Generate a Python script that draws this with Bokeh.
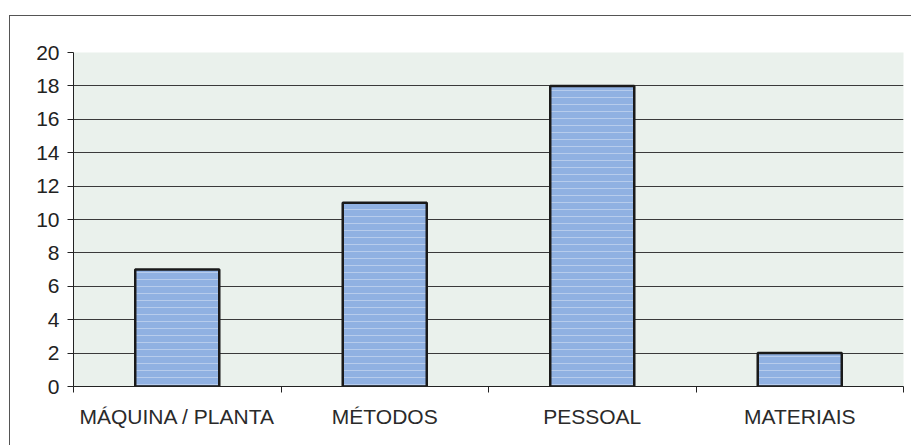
from bokeh.plotting import figure
from bokeh.models import FixedTicker, Range1d, ColumnDataSource
from bokeh.embed import file_html
from bokeh.resources import INLINE

categories = ["MÁQUINA / PLANTA", "MÉTODOS", "PESSOAL", "MATERIAIS"]
values = [7, 11, 18, 2]
y_ticks = [0, 2, 4, 6, 8, 10, 12, 14, 16, 18, 20]

xpos = [i + 0.5 for i in range(len(categories))]
src = ColumnDataSource(data=dict(x=xpos, top=values, cat=categories))

p = figure(width=902, height=430, output_backend="svg", toolbar_location=None,
           x_range=Range1d(0, len(categories)), y_range=Range1d(0, 20),
           min_border_left=63, min_border_right=9, min_border_top=36, min_border_bottom=60,
           background_fill_color="#eaf1ec", border_fill_color="white",
           outline_line_color=None)
# outer chart border (left and top edges visible in the reference)
p.margin = (15, 0, 0, 9)
p.styles = {"border-left": "1px solid #555555", "border-top": "1px solid #555555"}

p.vbar(x="x", top="top", width=0.405, bottom=0, source=src,
       fill_color="#90b1e2", line_color="#1a1a1a", line_width=2.5,
       hatch_pattern="-", hatch_color="white", hatch_alpha=0.35, hatch_scale=7)

# y axis
p.yaxis.ticker = FixedTicker(ticks=y_ticks)
p.yaxis.axis_line_color = "#222222"
p.yaxis.major_tick_out = 6
p.yaxis.major_tick_in = 0
p.yaxis.major_tick_line_color = "#222222"
p.yaxis.minor_tick_line_color = None
p.yaxis.major_label_text_font = "Liberation Sans"
p.yaxis.major_label_text_font_size = "21px"
p.yaxis.major_label_text_color = "#222222"
p.yaxis.major_label_standoff = 8

# x axis: labels at category centres, ticks at category boundaries
p.xaxis.ticker = FixedTicker(ticks=xpos, minor_ticks=list(range(len(categories) + 1)))
p.xaxis.major_label_overrides = {x: c for x, c in zip(xpos, categories)}
p.xaxis.major_tick_line_color = None
p.xaxis.minor_tick_in = 0
p.xaxis.minor_tick_out = 6
p.xaxis.minor_tick_line_color = "#222222"
p.xaxis.axis_line_color = "#222222"
p.xaxis.major_label_text_font = "Liberation Sans"
p.xaxis.major_label_text_font_size = "21px"
p.xaxis.major_label_text_color = "#2a2a2a"
p.xaxis.major_label_standoff = 12

p.xgrid.grid_line_color = None
p.ygrid.ticker = FixedTicker(ticks=y_ticks[1:-1])
p.ygrid.grid_line_color = "#3a3a3a"
p.ygrid.grid_line_width = 1

open("out.html", "w").write(file_html(p, INLINE))
